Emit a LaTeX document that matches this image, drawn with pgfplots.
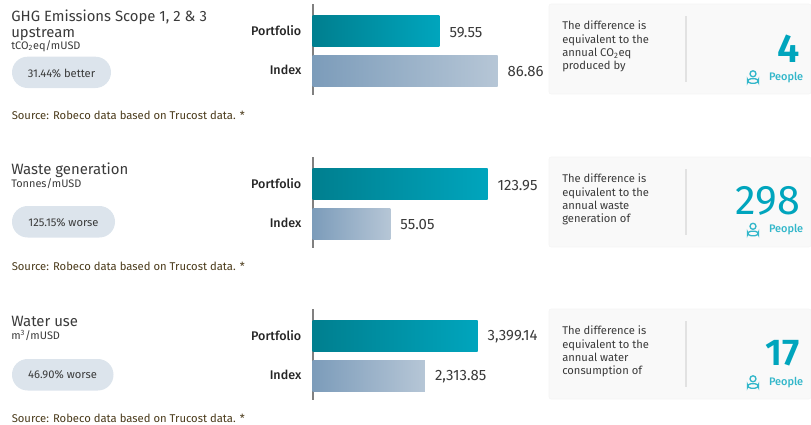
\documentclass[border=0pt]{standalone}
\usepackage{pgfplots}
\pgfplotsset{compat=1.18}
\usepackage{fontspec}
\setmainfont[BoldFont={Fira Sans Medium}]{Fira Sans}
\newfontfamily\heavy{Fira Sans SemiBold}
\definecolor{tealA}{HTML}{007F8F}
\definecolor{tealB}{HTML}{00A5BD}
\definecolor{blueA}{HTML}{7C9CBA}
\definecolor{blueB}{HTML}{B6C6D6}
\definecolor{pill}{HTML}{DCE4EC}
\definecolor{panel}{HTML}{F9F9F9}
\definecolor{panelrule}{HTML}{E2E2E2}
\definecolor{txt}{HTML}{3A3A3A}
\definecolor{src}{HTML}{4A3A1A}
\definecolor{accent}{HTML}{00A5BD}
\definecolor{axisgray}{HTML}{808080}
\newcommand{\fs}[1]{\fontsize{#1}{#1}\selectfont}
\pgfplotsset{
  metric/.style={
    anchor=north west, scale only axis, width=172.5pt, height=68.25pt,
    xmin=0, clip=false, axis x line=none, axis y line*=left,
    axis line style={axisgray,line width=1.5pt,-},
    y dir=reverse, ymin=-0.696, ymax=1.608,
    ytick={0,1}, yticklabels={Portfolio,Index}, major tick length=0pt,
    yticklabel style={font=\fs{9.4}\bfseries, text=black!85, xshift=-5pt, yshift=1pt},
    xbar, bar width=23.25pt, bar shift=0pt,
    point meta=explicit,
    nodes near coords,
    nodes near coords style={font=\fs{11.2}, text=txt, anchor=west, xshift=4pt, yshift=-0.5pt,
      /pgf/number format/.cd, fixed, fixed zerofill, precision=2, 1000 sep={,}, assume math mode=true},
  },
  pf/.style={draw=none, left color=tealA, right color=tealB},
  ix/.style={draw=none, left color=blueA, right color=blueB},
}
\newcommand{\person}[2]{% centre x, top y in px
  \begin{scope}[shift={(#1,#2)}, accent!80, line width=1pt]
    \draw (0,3.8) circle (3);
    \draw[rounded corners=2.6] (-5.5,8.7) rectangle (5.5,13.2);
  \end{scope}}
\newcommand{\panel}[5]{% top y, line1, line2, line3, line4
  \fill[panel, draw=black!4, rounded corners=1.5] (549,#1) rectangle (811,#1+90);
  \draw[panelrule, line width=0.9pt] (686,#1+12) -- (686,#1+78);
  \node[anchor=north west, align=left, text=txt, font=\fontsize{8.4}{10}\selectfont, inner sep=0pt] at (562,#1+16.7)
    {#2\\ #3\\ #4\\ #5};
}
\begin{document}
\begin{tikzpicture}[x=0.75pt,y=-0.75pt]
\useasboundingbox (0,0) rectangle (811,425);
% ---------- panel 1
\node[anchor=north west, align=left, text=txt, font=\fontsize{11.15}{12}\selectfont, inner sep=0pt] at (11,10)
  {GHG Emissions Scope 1, 2 \& 3\\ upstream};
\node[anchor=north west, text=txt, font=\fs{8.2}, inner sep=0pt] at (11,40)
  {tCO\textsubscript{2}eq/mUSD};
\fill[pill, rounded corners=11.7] (12,56.7) rectangle (111,88);
\node[text=txt, font=\fs{8.4}] at (61.5,73) {31.44\% better};
\node[anchor=west, text=src, font=\fs{8.45}, inner sep=0pt] at (11.5,115) {Source: Robeco data based on Trucost data. *};
\begin{axis}[metric, at={(234.5pt,-3pt)}, xmax=108]
\addplot[pf] coordinates {(59.55,0) [59.55]};
\addplot[ix] coordinates {(86.86,1) [86.86]};
\end{axis}
\panel{4}{The difference is}{equivalent to the}{annual CO\textsubscript{2}eq}{produced by}
\node[anchor=east, text=accent, font=\fs{30}\heavy, inner sep=0pt] at (800,48.5) {4};
\person{753}{70}
\node[anchor=east, text=accent!80, font=\fs{8.2}\bfseries, inner sep=0pt] at (803.5,78) {People};
% ---------- panel 2
\node[anchor=north west, text=txt, font=\fs{11.2}, inner sep=0pt] at (11,162.5) {Waste generation};
\node[anchor=north west, text=txt, font=\fs{8.2}, inner sep=0pt] at (11,178) {Tonnes/mUSD};
\fill[pill, rounded corners=11.7] (12,206) rectangle (115,237.5);
\node[text=txt, font=\fs{8.4}] at (63.5,222.5) {125.15\% worse};
\node[anchor=west, text=src, font=\fs{8.45}, inner sep=0pt] at (11.5,266) {Source: Robeco data based on Trucost data. *};
\begin{axis}[metric, at={(234.5pt,-117.75pt)}, xmax=162.9]
\addplot[pf] coordinates {(123.95,0) [123.95]};
\addplot[ix] coordinates {(55.05,1) [55.05]};
\end{axis}
\panel{157}{The difference is}{equivalent to the}{annual waste}{generation of}
\node[anchor=east, text=accent, font=\fs{31}, inner sep=0pt] at (800,201) {298};
\person{753}{222.5}
\node[anchor=east, text=accent!80, font=\fs{8.2}\bfseries, inner sep=0pt] at (803.5,230) {People};
% ---------- panel 3
\node[anchor=north west, text=txt, font=\fs{11.2}, inner sep=0pt] at (11,316) {Water use};
\node[anchor=north west, text=txt, font=\fs{8.2}, inner sep=0pt] at (11,330) {m\textsuperscript{3}/mUSD};
\fill[pill, rounded corners=11.7] (12,359) rectangle (113.5,390.5);
\node[text=txt, font=\fs{8.4}] at (62.5,375) {46.90\% worse};
\node[anchor=west, text=src, font=\fs{8.45}, inner sep=0pt] at (11.5,418) {Source: Robeco data based on Trucost data. *};
\begin{axis}[metric, at={(234.5pt,-231.75pt)}, xmax=4738]
\addplot[pf] coordinates {(3399.14,0) [3399.14]};
\addplot[ix] coordinates {(2313.85,1) [2313.85]};
\end{axis}
\panel{309}{The difference is}{equivalent to the}{annual water}{consumption of}
\node[anchor=east, text=accent, font=\fs{28}\heavy, inner sep=0pt] at (800,353) {17};
\person{753}{375}
\node[anchor=east, text=accent!80, font=\fs{8.2}\bfseries, inner sep=0pt] at (803.5,382.5) {People};
\end{tikzpicture}
\end{document}
